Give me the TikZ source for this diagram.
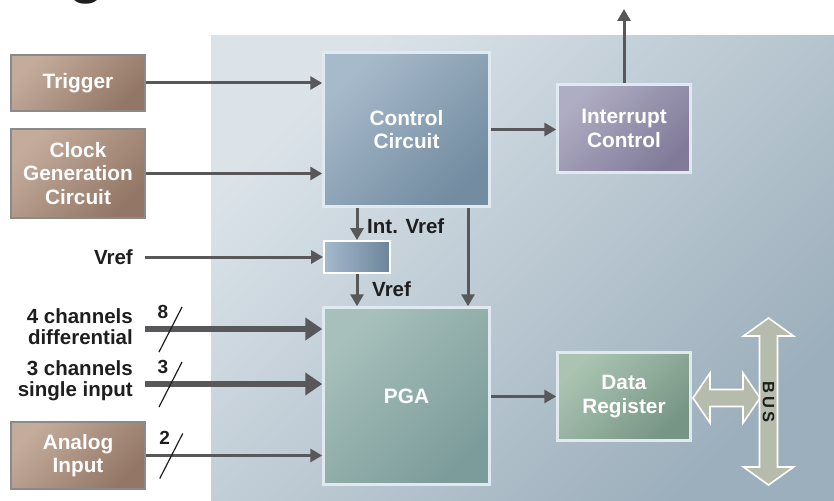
\documentclass[tikz,border=0pt]{standalone}
\usepackage{fontspec}
\setmainfont{Liberation Sans}
\usetikzlibrary{arrows.meta}

\definecolor{ink}{HTML}{1E1E1E}
\definecolor{wire}{HTML}{58585A}
\definecolor{panelA}{HTML}{DBE3E9}
\definecolor{panelB}{HTML}{9CAFBC}
\definecolor{brownA}{HTML}{C4AC9C}
\definecolor{brownB}{HTML}{937665}
\definecolor{srcedge}{HTML}{8A8A8A}
\definecolor{blockedge}{HTML}{E1E9F0}
\definecolor{ctrlA}{HTML}{A7BACB}
\definecolor{ctrlB}{HTML}{738CA1}
\definecolor{irqA}{HTML}{AFADC3}
\definecolor{irqB}{HTML}{817B99}
\definecolor{pgaA}{HTML}{A7C0BB}
\definecolor{pgaB}{HTML}{7C9C9B}
\definecolor{dataA}{HTML}{AAC4B1}
\definecolor{dataB}{HTML}{779585}
\definecolor{refA}{HTML}{A6B9CC}
\definecolor{refB}{HTML}{6C859B}
\definecolor{busfill}{HTML}{B5BCAB}

\newcommand\blkfont{\fontsize{20.8}{23.5}\selectfont\bfseries}
\newcommand\sidefont{\fontsize{20.5}{21}\selectfont\bfseries}

\begin{document}
\begin{tikzpicture}[x=1pt,y=-1pt,
  diag/.style 2 args={shading=axis, top color=#1, bottom color=#2, shading angle=45},
  srcbox/.style={draw=srcedge, line width=1.5pt, text=white, font=\blkfont,
    align=center, inner sep=0pt, minimum width=134pt, diag={brownA}{brownB}},
  blockbox/.style={draw=blockedge, line width=2.5pt, text=white, font=\blkfont,
    align=center, inner sep=0pt},
  lbl/.style={text=ink, font=\sidefont, inner sep=0pt},
  digit/.style={text=ink, font=\fontsize{19}{19}\selectfont\bfseries, inner sep=0pt},
  arr/.style={draw=wire, line width=3pt, -{Triangle[length=12pt,width=13pt]}},
  fatarr/.style={draw=wire, line width=6pt, -{Triangle[length=17pt,width=22pt]}},
  slash/.style={draw=ink, line width=1.2pt},
  busarrow/.style={fill=busfill, draw=white, line width=1.6pt, line join=miter}
]
\useasboundingbox (0,0) rectangle (834,500);

% heading glyph running off the top edge
\node[text=ink, font=\fontsize{60}{60}\selectfont\bfseries, anchor=base, inner sep=0pt]
  (head) at (87,-8.5) {g};

% shaded panel behind the converter core
\shade[diag={panelA}{panelB}] (211,36) rectangle (834,500);

% external sources
\node[srcbox, minimum height=56pt] (trig) at (78,83) {Trigger};
\node[srcbox, minimum height=89pt] (clk) at (78,173.5) {Clock\\Generation\\Circuit};
\node[srcbox, minimum height=67pt] (ana) at (78,455.5) {Analog\\Input};

% core blocks
\node[blockbox, diag={ctrlA}{ctrlB}, minimum width=166pt, minimum height=154pt]
  (ctrl) at (406.5,129.5) {Control\\Circuit};
\node[blockbox, diag={irqA}{irqB}, minimum width=133pt, minimum height=88pt]
  (intr) at (624,128.5) {Interrupt\\Control};
\node[draw=white, line width=1.8pt, left color=refA, right color=refB,
  minimum width=66pt, minimum height=32pt, inner sep=0pt] (vrefbx) at (357,257) {};
\node[blockbox, diag={pgaA}{pgaB}, minimum width=166pt, minimum height=177pt]
  (pga) at (406.5,396) {PGA};
\node[blockbox, diag={dataA}{dataB}, minimum width=133pt, minimum height=88pt]
  (data) at (624,396.5) {Data\\Register};

% side labels
\node[lbl, anchor=east] (vreflbl) at (133,257) {Vref};
\node[lbl, anchor=east, align=right] (ch4lbl) at (133,326.5) {4 channels\\differential};
\node[lbl, anchor=east, align=right] (ch3lbl) at (133,380.5) {3 channels\\single input};
\node[lbl, anchor=west] (intvref) at (367,226) {Int. Vref};
\node[lbl, anchor=west] (vrefout) at (372,289) {Vref};

% input wire starts
\coordinate (vin) at (145,257);
\coordinate (c4) at (145,329);
\coordinate (c3) at (145,384);
\coordinate (irq) at (624,9);

% control paths
\draw[arr] (trig.east) -- (trig.east -| ctrl.west);
\draw[arr] (clk.east) -- (clk.east -| ctrl.west);
\draw[arr] (ctrl.east) -- (ctrl.east -| intr.west);
\draw[arr] (intr.north) -- (irq);
\draw[arr] (ctrl.south -| vrefbx) -- (vrefbx.north);
\draw[arr] (vin) -- (vin -| vrefbx.west);
\draw[arr] (vrefbx.south) -- (vrefbx.south |- pga.north);
\draw[arr] ([xshift=61.5pt]ctrl.south) -- ([xshift=61.5pt]pga.north);

% signal inputs
\draw[fatarr] (c4) -- (c4 -| pga.west);
\draw[fatarr] (c3) -- (c3 -| pga.west);
\draw[arr] (ana.east) -- (ana.east -| pga.west);
\draw[arr] (pga.east |- data.west) -- (data.west);

% bus width marks
\draw[slash] ([shift={(14,23)}]c4) -- ++(23,-45);
\draw[slash] ([shift={(14,23)}]c3) -- ++(23,-45);
\draw[slash] ([shift={(14,23)}]ana.east) -- ++(23,-45);
\node[digit] (w8) at ([shift={(18,-17)}]c4) {8};
\node[digit] (w3) at ([shift={(18,-17)}]c3) {3};
\node[digit] (w2) at ([shift={(19,-17.5)}]ana.east) {2};

% data register to system bus
\draw[busarrow] (693,398) -- (710,373) -- (710,389.5) -- (743,389.5) -- (743,373)
  -- (760,398) -- (743,423) -- (743,406.5) -- (710,406.5) -- (710,423) -- cycle;
\draw[busarrow] (768.5,318) -- (793.5,336) -- (777.5,336) -- (777.5,467) -- (793.5,467)
  -- (768.5,485) -- (743.5,467) -- (759.5,467) -- (759.5,336) -- (743.5,336) -- cycle;
\node[rotate=-90, text=ink, font=\fontsize{16.5}{16.5}\selectfont\bfseries, inner sep=0pt]
  (buslbl) at (768.5,402) {B\,U\,S};
\end{tikzpicture}
\end{document}
